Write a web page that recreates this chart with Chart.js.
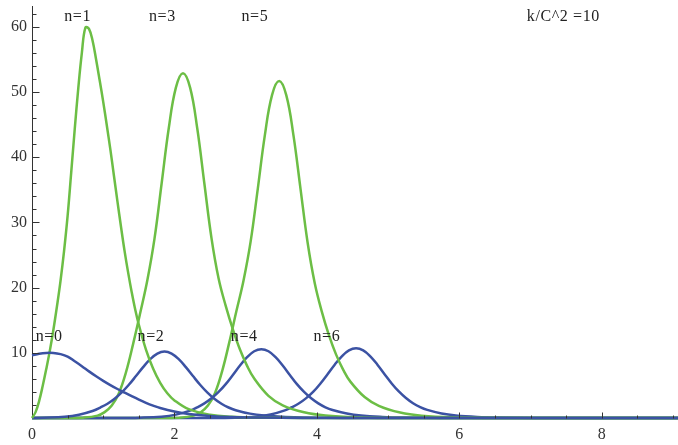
<!DOCTYPE html>
<html>
<head>
<meta charset="utf-8">
<script src="https://cdn.jsdelivr.net/npm/chart.js@4.4.1/dist/chart.umd.min.js"></script>
<style>
  html, body { margin: 0; padding: 0; background: #fff; }
</style>
</head>
<body>
<canvas id="chart" width="678" height="445"></canvas>
<script>
// curve samples (x, value)
const n0X = [0, 0.1, 0.2, 0.3, 0.4, 0.5, 0.6, 0.7, 0.8, 0.9, 1.0, 1.1, 1.2, 1.3, 1.4, 1.5, 1.6, 1.7, 1.8, 2.0, 2.2, 2.5, 2.8, 3.2, 3.8, 4.5, 9.1];
const n0Y = [9.6, 9.85, 9.98, 9.98, 9.8, 9.42, 8.7, 7.95, 7.15, 6.4, 5.7, 5.05, 4.45, 3.9, 3.35, 2.82, 2.33, 1.9, 1.53, 1.0, 0.63, 0.32, 0.15, 0.06, 0.015, 0, 0];

const n1X = [0, 0.05, 0.1, 0.15, 0.2, 0.25, 0.3, 0.35, 0.4, 0.45, 0.5, 0.55, 0.6, 0.65, 0.7, 0.75, 0.8, 0.85, 0.9, 0.95, 1.0, 1.05, 1.1, 1.15, 1.2, 1.25, 1.3, 1.35, 1.4, 1.45, 1.5, 1.6, 1.7, 1.8, 1.9, 2.0, 2.2, 2.5, 2.8, 3.2, 3.8, 9.1];
const n1Y = [0, 0.9, 2.6, 4.9, 7.5, 10.3, 13.5, 17.1, 21.0, 25.6, 31.0, 37.6, 44.3, 50.6, 56.0, 59.9, 59.7, 57.9, 55.0, 51.8, 48.5, 44.9, 41.2, 37.2, 33.2, 29.3, 25.6, 22.3, 19.3, 16.6, 14.3, 10.5, 7.6, 5.4, 3.8, 2.7, 1.35, 0.5, 0.2, 0.06, 0, 0];

const n2X = [0, 0.16, 0.46, 0.66, 0.86, 0.96, 1.06, 1.16, 1.26, 1.36, 1.46, 1.56, 1.66, 1.76, 1.86, 1.96, 2.06, 2.16, 2.26, 2.36, 2.46, 2.56, 2.66, 2.76, 2.86, 3.06, 3.26, 3.56, 3.86, 4.36, 4.86, 9.1];
const n2Y = [0, 0.05, 0.2, 0.51, 1.12, 1.61, 2.19, 2.96, 3.93, 5.1, 6.43, 7.8, 9.03, 9.89, 10.2, 9.89, 9.03, 7.8, 6.43, 5.1, 3.93, 2.96, 2.19, 1.61, 1.2, 0.67, 0.38, 0.16, 0.07, 0.015, 0, 0];

const n3X = [0, 0.5, 0.72, 0.92, 1.02, 1.12, 1.22, 1.32, 1.42, 1.52, 1.62, 1.72, 1.82, 1.92, 2.02, 2.12, 2.22, 2.32, 2.42, 2.52, 2.62, 2.72, 2.82, 2.92, 3.02, 3.12, 3.32, 3.52, 3.82, 4.12, 4.62, 5.12, 9.1];
const n3Y = [0, 0, 0.05, 0.37, 0.9, 1.9, 3.81, 7.04, 11.37, 16.13, 21.16, 27.51, 35.97, 44.44, 50.68, 52.9, 50.68, 44.44, 35.97, 27.6, 21.4, 17.2, 13.6, 10.5, 8.0, 6.05, 3.4, 1.95, 0.87, 0.37, 0.08, 0, 0];

const n4X = [0, 1.2, 1.52, 1.82, 2.02, 2.22, 2.32, 2.42, 2.52, 2.62, 2.72, 2.82, 2.92, 3.02, 3.12, 3.22, 3.32, 3.42, 3.52, 3.62, 3.72, 3.82, 3.92, 4.02, 4.12, 4.22, 4.42, 4.62, 4.92, 5.22, 5.72, 6.22, 9.1];
const n4Y = [0, 0, 0.05, 0.21, 0.52, 1.14, 1.64, 2.24, 3.02, 4.0, 5.2, 6.6, 8.05, 9.33, 10.24, 10.55, 10.24, 9.33, 8.05, 6.6, 5.2, 4.0, 3.02, 2.24, 1.64, 1.23, 0.69, 0.38, 0.17, 0.07, 0.016, 0, 0];

const n5X = [0, 1.8, 2.07, 2.27, 2.37, 2.47, 2.57, 2.67, 2.77, 2.87, 2.97, 3.07, 3.17, 3.27, 3.37, 3.47, 3.57, 3.67, 3.77, 3.87, 3.97, 4.07, 4.17, 4.27, 4.37, 4.47, 4.67, 4.87, 5.17, 5.47, 5.97, 6.47, 9.1];
const n5Y = [0, 0, 0.05, 0.36, 0.88, 1.9, 3.85, 7.2, 11.6, 16.4, 21.1, 27.1, 35.16, 43.43, 49.53, 51.7, 49.53, 43.43, 35.16, 26.88, 20.68, 16.29, 12.67, 9.72, 7.39, 5.58, 3.21, 1.86, 0.83, 0.36, 0.08, 0, 0];

const n6X = [0, 2.55, 2.85, 3.15, 3.35, 3.55, 3.65, 3.75, 3.85, 3.95, 4.05, 4.15, 4.25, 4.35, 4.45, 4.55, 4.65, 4.75, 4.85, 4.95, 5.05, 5.15, 5.25, 5.35, 5.45, 5.55, 5.75, 5.95, 6.25, 6.55, 7.05, 7.55, 9.1];
const n6Y = [0, 0, 0.05, 0.21, 0.53, 1.16, 1.66, 2.26, 3.05, 4.04, 5.3, 6.72, 8.18, 9.47, 10.38, 10.7, 10.38, 9.47, 8.18, 6.72, 5.3, 4.07, 3.07, 2.27, 1.67, 1.24, 0.69, 0.39, 0.17, 0.074, 0.016, 0, 0];

// text placed on the plot
const noteText = ["n=1", "n=3", "n=5", "k/C^2 =10", "n=0", "n=2", "n=4", "n=6"];
const noteX = [0.64, 1.83, 3.13, 7.46, 0.24, 1.67, 2.98, 4.14];
const noteY = [61.5, 61.5, 61.5, 61.5, 12.4, 12.4, 12.4, 12.4];

const BLUE = "#3b52a3";
const GREEN = "#6cbe45";

function toPoints(xs, ys) {
    return xs.map((x, i) => ({ x: x, y: ys[i] }));
}

function curve(xs, ys, color) {
    return {
        data: toPoints(xs, ys),
        borderColor: color,
        borderWidth: 2.5,
        showLine: true,
        pointRadius: 0,
        tension: 0.4,
        clip: false,
    };
}

// ticks point into the plot, Mathematica style
const axisPlugin = {
    id: "axisPlugin",
    beforeDatasetsDraw(chart) {
        const { ctx, scales: { x, y } } = chart;
        const x0 = Math.round(x.getPixelForValue(0)) + 0.5;
        const y0 = Math.round(y.getPixelForValue(0)) + 0.5;
        ctx.save();
        ctx.strokeStyle = "#333";
        ctx.lineWidth = 1;
        ctx.beginPath();
        ctx.moveTo(x0, y0);
        ctx.lineTo(x0, chart.chartArea.top);
        ctx.moveTo(x0, y0);
        ctx.lineTo(chart.chartArea.right, y0);
        ctx.stroke();
        ctx.restore();
    },
    afterDatasetsDraw(chart) {
        const { ctx, scales: { x, y } } = chart;
        const x0 = Math.round(x.getPixelForValue(0)) + 0.5;
        const y0 = Math.round(y.getPixelForValue(0)) + 0.5;
        ctx.save();
        ctx.strokeStyle = "#333";
        ctx.lineWidth = 1;
        ctx.beginPath();
        for (let v = 0.5; v <= x.max; v += 0.5) {
            const px = Math.round(x.getPixelForValue(v)) + 0.5;
            const len = v % 2 === 0 ? 6 : 3;
            ctx.moveTo(px, y0);
            ctx.lineTo(px, y0 - len);
        }
        for (let v = 2; v <= y.max; v += 2) {
            const py = Math.round(y.getPixelForValue(v)) + 0.5;
            const len = v % 10 === 0 ? 7 : 4;
            ctx.moveTo(x0, py);
            ctx.lineTo(x0 + len, py);
        }
        ctx.stroke();

        ctx.fillStyle = "#222";
        ctx.font = "16px 'Liberation Serif'";
        ctx.letterSpacing = "0.6px";
        ctx.textAlign = "center";
        ctx.textBaseline = "middle";
        noteText.forEach((t, i) => {
            ctx.fillText(t, x.getPixelForValue(noteX[i]), y.getPixelForValue(noteY[i]));
        });
        ctx.restore();
    },
};

new Chart(document.getElementById("chart"), {
    type: "scatter",
    data: {
        datasets: [
            curve(n0X, n0Y, BLUE),
            curve(n1X, n1Y, GREEN),
            curve(n2X, n2Y, BLUE),
            curve(n3X, n3Y, GREEN),
            curve(n4X, n4Y, BLUE),
            curve(n5X, n5Y, GREEN),
            curve(n6X, n6Y, BLUE),
        ],
    },
    options: {
        responsive: false,
        animation: false,
        devicePixelRatio: 1,
        layout: { padding: { top: 6, right: 0, left: 0, bottom: 0 } },
        plugins: {
            legend: { display: false },
            tooltip: { enabled: false },
        },
        scales: {
            x: {
                type: "linear",
                min: 0,
                max: 9.07,
                grid: { display: false, drawTicks: false },
                border: { display: false },
                ticks: {
                    stepSize: 2,
                    includeBounds: false,
                    autoSkip: false,
                    maxRotation: 0,
                    padding: 7,
                    color: "#333",
                    font: { family: "Liberation Serif", size: 16 },
                },
                afterFit: (scale) => {
                    scale.height = 27;
                    scale.paddingRight = 0;
                },
            },
            y: {
                type: "linear",
                min: 0,
                max: 63.2,
                grid: { display: false, drawTicks: false },
                border: { display: false },
                ticks: {
                    stepSize: 10,
                    includeBounds: false,
                    padding: 5,
                    color: "#333",
                    font: { family: "Liberation Serif", size: 16 },
                    callback: (v) => (v === 0 ? "" : v),
                },
                afterFit: (scale) => {
                    scale.width = 32;
                    scale.paddingTop = 0;
                    scale.paddingBottom = 0;
                },
            },
        },
    },
    plugins: [axisPlugin],
});
</script>
</body>
</html>
